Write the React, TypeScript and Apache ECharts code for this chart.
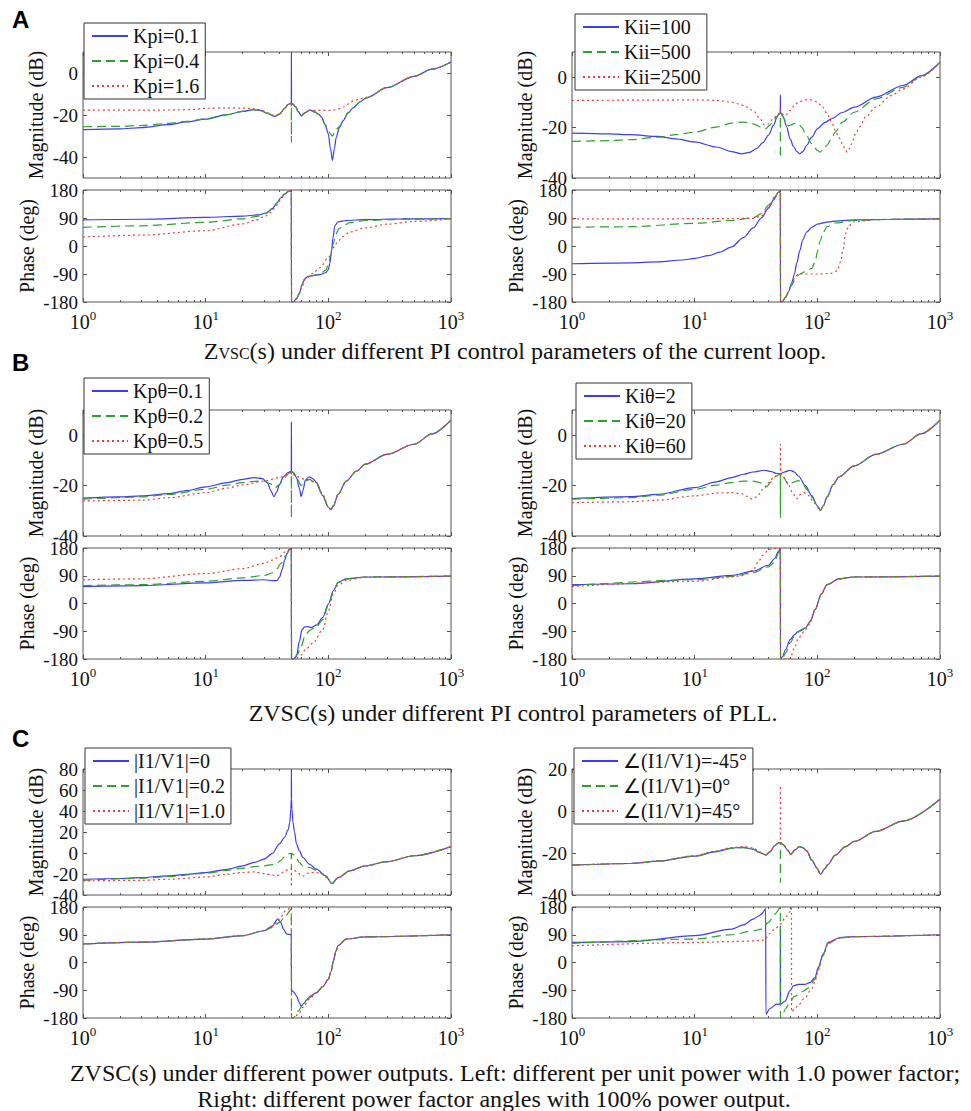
import React, { useEffect, useRef } from 'react';
import * as echarts from 'echarts';

const FONT = '"Liberation Serif", "Times New Roman", serif';
const SANS = '"Liberation Sans", Arial, sans-serif';
const TXT = '#111';
const FRAME = '#555';
const TICK = '#555';
const BLUE = '#3c3cf0';
const GREEN = '#2ea02e';
const RED = '#f03c3c';

// ---------- tick values ----------
const X_DECADES = [1, 10, 100, 1000];
const PHASE_TICKS = [-180, -90, 0, 90, 180];
const MAG_TICKS_3 = [-40, -20, 0];
const MAG_TICKS_C1 = [-40, -20, 0, 20, 40, 60, 80];
const MAG_TICKS_C2 = [-40, -20, 0, 20];

// ---------- legend names ----------
const NAMES_A1 = ['Kpi=0.1', 'Kpi=0.4', 'Kpi=1.6'];
const NAMES_A2 = ['Kii=100', 'Kii=500', 'Kii=2500'];
const NAMES_B1 = ['Kpθ=0.1', 'Kpθ=0.2', 'Kpθ=0.5'];
const NAMES_B2 = ['Kiθ=2', 'Kiθ=20', 'Kiθ=60'];
const NAMES_C1 = ['|I1/V1|=0', '|I1/V1|=0.2', '|I1/V1|=1.0'];
const NAMES_C2 = ['∠(I1/V1)=-45°', '∠(I1/V1)=0°', '∠(I1/V1)=45°'];

// ---------- Panel A left: Kpi ----------
const aL_mag_kpi01 = [[1,-27],[2,-26.6],[3,-26],[5,-24.6],[7,-23.3],[10,-22],[15,-19.8],[20,-18.3],[24.5,-17.5],[28,-17.9],[32,-19.2],[36.7,-20.7],[40,-19.6],[44,-16.8],[47,-15],[49,-14.6],[49.9,-14.6],[50,9.5],[50.1,-14.6],[51.5,-14.8],[54,-16],[57,-18.5],[60.5,-20.4],[64,-19],[71,-17.7],[78,-18.6],[84,-19.8],[88,-21],[94,-24.5],[100,-29],[104,-36],[108,-41.6],[112,-36],[116,-30.6],[123,-26],[132,-22.7],[145,-19],[160,-16.5],[180,-13.8],[205,-11.8],[300,-7],[500,-1.6],[700,1.8],[1000,5.2]];
const aL_mag_kpi04 = [[1,-25.6],[2,-25.4],[3,-25],[5,-24],[7,-23],[10,-21.8],[15,-19.8],[20,-18.3],[24.5,-17.5],[28,-17.9],[32,-19.2],[36.7,-20.7],[40,-19.6],[44,-16.8],[47,-15],[49,-14.6],[49.9,-14.6],[50,-33],[50.1,-14.6],[51.5,-14.8],[54,-16],[57,-18.5],[60.5,-20.4],[64,-19],[71,-17.7],[78,-18.6],[84,-19.8],[88,-21],[94,-24.5],[100,-27.5],[105,-29.5],[108,-30],[112,-28.5],[118,-26.5],[125,-25],[132,-22.7],[145,-19],[160,-16.5],[180,-13.8],[205,-11.8],[300,-7],[500,-1.6],[700,1.8],[1000,5.2]];
const aL_mag_kpi16 = [[1,-17.7],[3,-17.7],[6,-17.6],[8,-17.3],[10,-16.8],[15,-16.6],[20,-16.7],[24.5,-17],[28,-17.6],[32,-19],[36.7,-20.5],[40,-19.5],[44,-16.8],[47,-15],[49,-14.6],[49.9,-14.6],[50.1,-14.6],[51.5,-14.8],[54,-16],[57,-18.5],[60.5,-20.4],[64,-19],[71,-17.7],[80,-17.8],[95,-17.8],[110,-17.7],[120,-17.2],[132,-16.2],[145,-14.8],[160,-13.3],[180,-12.3],[205,-11.6],[300,-7],[500,-1.6],[700,1.8],[1000,5.2]];
const aL_ph_kpi01 = [[1,84],[3,86],[10,92],[20,96],[27,100],[31,106],[35,120],[38,138],[41,155],[44,167],[47,175],[49.9,179],[50.1,-180],[52,-179],[55,-169],[58,-152],[61,-125],[64,-106],[68,-98],[75,-95],[85,-92],[95,-86],[100,-76],[103,-55],[106,-20],[109,25],[113,65],[120,78],[140,82],[200,85],[400,87],[1000,88]];
const aL_ph_kpi04 = [[1,60],[3,65],[10,76],[20,87],[27,96],[31,105],[35,120],[38,138],[41,155],[44,167],[47,175],[49.9,179],[50.1,-180],[52,-179],[55,-169],[58,-152],[61,-125],[64,-106],[68,-98],[75,-95],[85,-90],[95,-78],[100,-60],[105,-28],[110,8],[115,38],[122,55],[132,65],[150,75],[200,82],[400,86],[1000,88]];
const aL_ph_kpi16 = [[1,29],[3,35],[10,49],[20,71],[26,84],[30,94],[34,108],[37,125],[40,145],[44,165],[47,175],[49.9,179],[50.1,-180],[52,-179],[55,-170],[58,-155],[61,-130],[65,-106],[75,-88],[85,-70],[100,-38],[110,-5],[120,15],[130,30],[150,45],[200,58],[300,70],[500,79],[1000,87]];

// ---------- Panel A right: Kii ----------
const aR_mag_kii100 = [[1,-22.2],[2,-22.5],[3,-22.8],[5,-23.5],[7,-24.5],[10,-25.7],[15,-27.7],[20,-29.5],[24,-30.4],[28,-29.8],[32,-28.3],[36,-26],[40,-23],[44,-19],[47,-15.8],[49,-14.3],[49.9,-14.1],[50,-7],[50.1,-14.1],[51,-14.3],[53,-16],[56,-19.5],[60,-24.5],[64,-27.5],[68,-29.5],[72,-30.4],[76,-29.5],[82,-27],[90,-23.8],[100,-20.5],[115,-18],[130,-16.5],[160,-14],[200,-11.9],[300,-7.9],[500,-3.3],[700,0.5],[1000,6]];
const aR_mag_kii500 = [[1,-25.5],[2,-25.2],[3,-24.8],[5,-23.8],[7,-22.8],[10,-21.8],[15,-19.8],[20,-18.2],[25,-17.8],[30,-18.5],[35,-19.8],[38,-20.5],[41,-19],[45,-16.5],[48,-15],[49.9,-14.2],[50,-32],[50.1,-14.2],[52,-15.3],[55,-17.2],[58,-19.3],[62,-18.8],[66,-18.2],[70,-18.5],[75,-20],[80,-22.4],[90,-26.4],[100,-29],[105,-29.7],[112,-28.8],[120,-27],[130,-24.5],[140,-21.8],[160,-17.8],[200,-13.9],[300,-8.6],[500,-4],[700,0.3],[1000,6]];
const aR_mag_kii2500 = [[1,-9.2],[5,-9.1],[10,-9],[15,-9.2],[20,-9.9],[25,-11.2],[30,-13.2],[34,-16.3],[37,-19],[40,-18.5],[44,-16.2],[48,-14.8],[49.9,-14.2],[50,-13],[50.1,-14.2],[52,-14.6],[55,-15.2],[60,-13.2],[65,-11.2],[70,-9.9],[80,-9],[90,-9],[100,-9.9],[110,-11.8],[120,-14.5],[130,-17.5],[140,-21],[150,-24],[160,-26.4],[170,-29],[175,-29.7],[182,-28.5],[190,-26.4],[205,-22.5],[220,-19.8],[250,-15.5],[300,-11.9],[400,-7.3],[500,-4.6],[700,0],[1000,6]];
const aR_ph_kii100 = [[1,-57],[3,-54],[5,-51],[8,-45],[10,-40],[13,-31],[16,-20],[20,-3],[25,27],[30,58],[35,90],[40,122],[44,148],[48,172],[49.9,178],[50.1,-180],[52,-178],[55,-165],[58,-148],[62,-118],[65,-90],[68,-55],[72,-15],[76,20],[82,45],[90,60],[100,70],[120,77],[150,81],[200,84],[400,86],[1000,87]];
const aR_ph_kii500 = [[1,60],[3,62],[10,73],[20,82],[30,91],[35,104],[40,131],[45,158],[48,172],[49.9,178],[50.1,-180],[52,-178],[55,-165],[58,-150],[62,-125],[66,-105],[72,-90],[80,-82],[90,-72],[96,-50],[100,-20],[105,15],[112,45],[120,62],[140,74],[200,82],[400,86],[1000,87]];
const aR_ph_kii2500 = [[1,87],[5,87],[10,88],[20,88],[30,89],[35,96],[40,125],[45,156],[48,172],[49.9,178],[50.1,-180],[52,-178],[55,-165],[58,-148],[62,-120],[66,-98],[70,-90],[100,-90],[130,-88],[145,-80],[155,-50],[162,-10],[170,40],[180,65],[200,78],[300,85],[1000,87]];

// ---------- Panel B left: Kpθ ----------
const bL_mag_kp01 = [[1,-25],[2,-24.5],[3,-24.1],[5,-23.2],[7,-22],[10,-20.5],[15,-18.8],[20,-17.5],[25,-16.8],[29,-17.2],[32,-19],[34,-22],[36,-24.4],[38,-22.5],[40,-19.5],[43,-16.5],[47,-14.8],[49.9,-14.3],[50,5.4],[50.1,-14.3],[52,-14.8],[55,-16.8],[58,-21],[60,-24.4],[62,-22],[65,-17.8],[70,-16.5],[75,-17.3],[80,-18.8],[90,-24],[100,-28.5],[105,-29.5],[110,-28],[120,-23.5],[140,-18.2],[170,-14.2],[200,-11.5],[300,-7.6],[500,-3.6],[700,0.5],[1000,6]];
const bL_mag_kp02 = [[1,-25.4],[3,-24.5],[5,-23.5],[10,-21.5],[15,-19.8],[20,-18.8],[25,-18.3],[30,-18.2],[34,-19.3],[37,-20.8],[40,-19.5],[44,-16.8],[48,-15],[49.9,-14.3],[50,-32.7],[50.1,-14.3],[53,-15.5],[56,-17.5],[60,-20],[64,-18.5],[70,-17.5],[80,-19.3],[90,-24],[100,-28.5],[105,-29.5],[110,-28],[120,-23.5],[140,-18.2],[170,-14.2],[200,-11.5],[300,-7.6],[500,-3.6],[700,0.5],[1000,6]];
const bL_mag_kp05 = [[1,-26.1],[3,-25.8],[5,-24.8],[10,-22.8],[15,-21],[20,-19.7],[30,-18.2],[40,-16.8],[48,-15.2],[49.9,-14.5],[50.1,-14.5],[55,-16.4],[65,-17.5],[80,-18.8],[90,-23.5],[100,-28.5],[105,-29.5],[110,-28],[120,-23.5],[140,-18.2],[170,-14.2],[200,-11.5],[300,-7.6],[500,-3.6],[700,0.5],[1000,6]];
const bL_ph_kp01 = [[1,55],[3,58],[10,67],[20,75],[30,77],[35,74],[38,74],[40,85],[42,110],[44,140],[46,162],[48,175],[49.9,179],[50.1,-180],[52,-180],[55,-172],[58,-123],[61,-85],[64,-76],[68,-75],[73,-78],[80,-70],[90,-46],[100,-2],[110,42],[120,69],[140,80],[200,86],[1000,89]];
const bL_ph_kp02 = [[1,58],[3,61],[10,72],[20,83],[30,91],[35,99],[38,112],[41,130],[45,155],[48,172],[49.9,179],[50.1,-180],[52,-180],[56,-165],[60,-139],[65,-101],[72,-85],[80,-76],[90,-52],[100,-5],[110,40],[120,68],[140,80],[200,86],[1000,89]];
const bL_ph_kp05 = [[1,77],[3,80],[10,97],[20,113],[30,130],[35,141],[40,152],[45,168],[49.9,179],[50.1,-180],[55,-178],[60,-167],[65,-150],[75,-128],[90,-85],[100,-24],[110,31],[120,58],[140,75],[200,85],[1000,89]];

// ---------- Panel B right: Kiθ ----------
const bR_mag_ki2 = [[1,-25.2],[3,-24.4],[5,-23.5],[10,-20.8],[15,-18.5],[20,-16.8],[25,-15.5],[30,-14.6],[37,-13.9],[42,-14.4],[46,-15.1],[49.9,-15.4],[50.1,-15.4],[54,-14.6],[60,-13.9],[65,-14.6],[70,-16.2],[80,-20],[90,-24],[100,-28],[106,-29.8],[112,-28],[120,-24.5],[135,-19.5],[150,-16.5],[200,-12.2],[300,-7.6],[500,-3.6],[700,0.5],[1000,6]];
const bR_mag_ki20 = [[1,-25.4],[3,-24.8],[5,-23.8],[10,-21.5],[15,-19.8],[20,-18.8],[25,-18.2],[30,-18.2],[34,-18.8],[38.4,-20.5],[42,-18.5],[46,-16.3],[49.9,-15.4],[50,-32.7],[50.1,-15.4],[53,-16.5],[56,-18.5],[58.6,-20],[63,-18.8],[70,-18],[76,-19],[82,-21.5],[90,-24.5],[100,-28],[106,-29.8],[112,-28],[120,-24.5],[135,-19.5],[150,-16.5],[200,-12.2],[300,-7.6],[500,-3.6],[700,0.5],[1000,6]];
const bR_mag_ki60 = [[1,-26.8],[3,-26.4],[5,-25.8],[10,-24.1],[15,-23],[20,-22.8],[24,-23.2],[27,-24.3],[29.5,-25.4],[32,-24.5],[36,-21.5],[40,-18.8],[45,-16.3],[49.9,-15.4],[50,-3.6],[50.1,-15.4],[54,-17],[58,-19.5],[63,-23],[68,-25.2],[73,-23.5],[78,-22.8],[85,-24],[95,-27],[106,-29.8],[112,-28],[120,-24.5],[135,-19.5],[150,-16.5],[200,-12.2],[300,-7.6],[500,-3.6],[700,0.5],[1000,6]];
const bR_ph_ki2 = [[1,61],[3,64],[10,80],[20,91],[30,105],[40,124],[45,146],[48,168],[49.9,179],[50.1,-180],[52,-172],[55,-150],[60,-117],[65,-101],[70,-90],[80,-79],[88,-57],[96,-19],[108,31],[120,61],[150,80],[200,86],[1000,89]];
const bR_ph_ki20 = [[1,58],[10,77],[20,88],[30,100],[40,119],[45,135],[48,162],[49.9,179],[50.1,-180],[52,-178],[55,-161],[60,-128],[65,-106],[72,-90],[80,-80],[88,-57],[96,-19],[108,31],[120,61],[150,80],[200,86],[1000,89]];
const bR_ph_ki60 = [[1,55],[10,72],[20,86],[25,91],[30,108],[33,135],[36,157],[40,173],[43,179],[49.9,179],[50.1,-180],[55,-180],[60,-178],[65,-145],[70,-112],[78,-92],[85,-70],[96,-19],[108,31],[120,61],[150,80],[200,86],[1000,89]];

// ---------- Panel C left: |I1/V1| ----------
const cL_mag_p0 = [[1,-25],[2,-24.3],[3,-23.4],[5,-21.8],[7,-20.3],[10,-18.6],[15,-15.5],[20,-12.2],[25,-9],[30,-5.8],[35,-0.3],[40,8.7],[44,15],[47,22],[48.5,29],[49.5,42],[49.9,52],[50,80],[50.1,52],[50.5,42],[51.5,29],[53,20],[55,8.7],[58,2.2],[62,-4.2],[70,-10.6],[80,-15.4],[95,-21.8],[107,-29.2],[120,-23.4],[150,-17],[200,-12.2],[300,-8.3],[500,-2.6],[1000,6.1]];
const cL_mag_p02 = [[1,-26],[3,-24],[5,-22.5],[10,-19.3],[15,-16.5],[20,-14.4],[25,-13],[30,-12.2],[35,-11],[38,-10],[41,-7],[44,-3.5],[47,-1],[49.9,-0.3],[50,-15],[50.1,-0.3],[52,-1.6],[55,-5],[58,-9],[62,-12.2],[70,-13.8],[80,-16.4],[95,-21.8],[107,-29.2],[120,-23.4],[150,-17],[200,-12.2],[300,-8.3],[500,-2.6],[1000,6.1]];
const cL_mag_p10 = [[1,-26.6],[3,-26],[5,-25],[10,-22.8],[15,-20.2],[20,-18.6],[25,-18],[30,-19.6],[35,-21],[38,-21.8],[41,-19.5],[44,-17],[48,-15.4],[49.9,-15],[50,-32],[50.1,-15],[53,-16.5],[56,-18.5],[60,-21.5],[63,-21.8],[67,-19.5],[72,-18.5],[80,-18.6],[90,-20],[100,-25],[107,-29.2],[120,-23.4],[150,-17],[200,-12.2],[300,-8.3],[500,-2.6],[1000,6.1]];
const cL_ph_p0 = [[1,60],[3,66],[10,76],[20,87],[30,103],[35,119],[38.6,141],[41,130],[43,108],[46,92],[49.9,90],[50.1,-90],[52,-95],[55,-108],[58,-130],[60,-141],[63,-133],[67,-120],[72,-108],[80,-98],[90,-78],[100,-55],[105,-30],[110,5],[115,35],[120,55],[140,76],[200,83],[1000,90]];
const cL_ph_p02 = [[1,60],[3,66],[10,76],[20,87],[30,103],[35,114],[40,130],[45,152],[49.9,173],[50.1,-180],[52,-179],[57,-157],[62,-136],[70,-114],[80,-98],[90,-78],[100,-55],[105,-30],[110,5],[115,35],[120,55],[140,76],[200,83],[1000,90]];
const cL_ph_p10 = [[1,60],[3,66],[10,76],[20,87],[30,103],[35,117],[40,141],[45,168],[49.9,179],[50.1,-180],[52,-180],[57,-168],[62,-146],[70,-119],[80,-98],[90,-78],[100,-55],[105,-30],[110,5],[115,35],[120,55],[140,76],[200,83],[1000,90]];

// ---------- Panel C right: ∠(I1/V1) ----------
const cR_mag_m45 = [[1,-25.8],[3,-25],[5,-23.9],[10,-21.5],[15,-19.3],[20,-17.7],[25,-17.3],[30,-18.2],[34,-19.8],[38,-21],[41,-19.5],[45,-16.5],[48,-15.3],[49.9,-15],[50.1,-15],[53,-16.1],[57,-18.5],[60.6,-20.6],[66,-18.5],[71,-17],[76,-17.4],[82,-19],[90,-23.4],[100,-27.4],[106,-30.2],[115,-27.5],[122,-25.5],[140,-21],[170,-17],[200,-14.5],[300,-9.7],[500,-4.8],[1000,5.6]];
const cR_mag_0 = [[1,-25.8],[3,-25],[5,-23.9],[10,-21.5],[15,-19.3],[20,-17.8],[25,-17.4],[30,-18.2],[34,-19.8],[38,-21],[41,-19.5],[45,-16.5],[48,-15.3],[49.9,-15],[50,-34],[50.1,-15],[53,-16.1],[57,-18.5],[60.6,-20.6],[66,-18.5],[71,-17],[76,-17.4],[82,-19],[90,-23.4],[100,-27.4],[106,-30.2],[115,-27.5],[122,-25.5],[140,-21],[170,-17],[200,-14.5],[300,-9.7],[500,-4.8],[1000,5.6]];
const cR_mag_p45 = [[1,-25.8],[3,-25],[5,-23.9],[10,-21.3],[15,-19],[20,-17.4],[25,-16.9],[30,-17.6],[34,-19.5],[38,-20.8],[41,-19.5],[45,-16.5],[48,-15.3],[49.9,-15],[50,12],[50.1,-15],[53,-16.1],[57,-18.5],[60.6,-20.6],[66,-18.5],[71,-17],[76,-17.4],[82,-19],[90,-23.4],[100,-27.4],[106,-30.2],[115,-27.5],[122,-25.5],[140,-21],[170,-17],[200,-14.5],[300,-9.7],[500,-4.8],[1000,5.6]];
const cR_ph_m45 = [[1,65],[3,68],[10,87],[20,108],[25,122],[30,141],[33,150],[35,157],[37,168],[37.9,176],[38.1,-168],[41,-150],[46.6,-135],[49.9,-135],[50,120],[50.1,-135],[54.6,-125],[59.8,-92],[63.7,-76],[70,-71],[79,-71],[87,-65],[95.6,-49],[101.7,-16],[111.5,27],[122.5,65],[153,81],[200,84],[1000,90]];
const cR_ph_0 = [[1,62],[10,76],[20,90],[30,103],[35,108],[40,130],[45,157],[49.9,177],[50.1,-180],[52,-170],[55,-150],[60,-128],[65,-110],[75,-95],[85,-82],[95.6,-55],[101.7,-20],[111.5,25],[122.5,63],[153,80],[200,84],[1000,90]];
const cR_ph_p45 = [[1,54],[10,65],[20,68],[30,70],[35,71],[38,76],[40,92],[45,108],[50,125],[55,146],[60,165],[61.5,176],[61.7,-160],[65,-152],[70,-138],[80,-112],[90,-85],[97,-55],[101.7,-25],[111.5,22],[122.5,62],[153,80],[200,84],[1000,90]];

// ---------- layout config ----------
const PANELS = [
  { left: 83, magTop: 52, phTop: 190, phH: 112, magMin: -50, magMax: 10, magTicks: MAG_TICKS_3, names: NAMES_A1,
    mag: [aL_mag_kpi01, aL_mag_kpi04, aL_mag_kpi16], ph: [aL_ph_kpi01, aL_ph_kpi04, aL_ph_kpi16], lg: [84, 23] },
  { left: 572, magTop: 52, phTop: 190, phH: 112, magMin: -40, magMax: 10, magTicks: MAG_TICKS_3, names: NAMES_A2,
    mag: [aR_mag_kii100, aR_mag_kii500, aR_mag_kii2500], ph: [aR_ph_kii100, aR_ph_kii500, aR_ph_kii2500], lg: [575, 14] },
  { left: 83, magTop: 410, phTop: 548, phH: 111, magMin: -40, magMax: 10, magTicks: MAG_TICKS_3, names: NAMES_B1,
    mag: [bL_mag_kp01, bL_mag_kp02, bL_mag_kp05], ph: [bL_ph_kp01, bL_ph_kp02, bL_ph_kp05], lg: [84, 378] },
  { left: 572, magTop: 410, phTop: 548, phH: 111, magMin: -40, magMax: 10, magTicks: MAG_TICKS_3, names: NAMES_B2,
    mag: [bR_mag_ki2, bR_mag_ki20, bR_mag_ki60], ph: [bR_ph_ki2, bR_ph_ki20, bR_ph_ki60], lg: [576, 383] },
  { left: 83, magTop: 769, phTop: 907, phH: 111, magMin: -40, magMax: 80, magTicks: MAG_TICKS_C1, names: NAMES_C1,
    mag: [cL_mag_p0, cL_mag_p02, cL_mag_p10], ph: [cL_ph_p0, cL_ph_p02, cL_ph_p10], lg: [85, 748] },
  { left: 572, magTop: 769, phTop: 907, phH: 111, magMin: -40, magMax: 20, magTicks: MAG_TICKS_C2, names: NAMES_C2,
    mag: [cR_mag_m45, cR_mag_0, cR_mag_p45], ph: [cR_ph_m45, cR_ph_0, cR_ph_p45], lg: [574, 748] },
];

const COLORS = [BLUE, GREEN, RED];
const DASHES: any[] = ['solid', [9, 5], [2, 3]];

function buildOption() {
  const grid: any[] = [];
  const xAxis: any[] = [];
  const yAxis: any[] = [];
  const series: any[] = [];
  const legend: any[] = [];

  PANELS.forEach((p, pi) => {
    [0, 1].forEach((k) => {
      const g = pi * 2 + k;
      const isMag = k === 0;
      grid.push({
        left: p.left, top: isMag ? p.magTop : p.phTop, width: 368, height: isMag ? 126 : p.phH,
        show: true, borderColor: FRAME, borderWidth: 1, backgroundColor: 'transparent', containLabel: false,
      });
      const xBase = {
        type: 'log', logBase: 10, min: 1, max: 1000, gridIndex: g,
        axisLine: { show: false, onZero: false }, splitLine: { show: false },
        axisTick: { show: true, inside: true, length: 4, lineStyle: { color: TICK } },
        minorTick: { show: true, splitNumber: 9, length: 2, lineStyle: { color: TICK } },
      };
      xAxis.push({
        ...xBase, position: 'bottom',
        axisLabel: isMag ? { show: false } : {
          show: true, margin: 7, customValues: X_DECADES,
          formatter: (v: number) => '{b|10}{s|' + Math.round(Math.log10(v)) + '}',
          rich: {
            b: { fontSize: 20, fontFamily: FONT, color: TXT, verticalAlign: 'bottom' },
            s: { fontSize: 13, fontFamily: FONT, color: TXT, verticalAlign: 'bottom', padding: [0, 0, 10, 0] },
          },
        },
      });
      xAxis.push({ ...xBase, position: 'top', axisLabel: { show: false } });
      const ticks = isMag ? p.magTicks : PHASE_TICKS;
      const yBase = {
        type: 'value', min: isMag ? p.magMin : -180, max: isMag ? p.magMax : 180, gridIndex: g,
        axisLine: { show: false, onZero: false }, splitLine: { show: false },
        axisTick: { show: true, inside: true, length: 4, customValues: ticks, lineStyle: { color: TICK } },
      };
      yAxis.push({
        ...yBase, position: 'left',
        axisLabel: { show: true, customValues: ticks, fontSize: 19, fontFamily: FONT, color: TXT, margin: 5 },
        name: isMag ? 'Magnitude (dB)' : 'Phase (deg)', nameLocation: 'middle', nameRotate: 90,
        nameGap: isMag ? 37 : 46,
        nameTextStyle: { fontSize: 20, fontFamily: FONT, color: TXT },
      });
      yAxis.push({ ...yBase, position: 'right', axisLabel: { show: false } });
      const arrs = isMag ? p.mag : p.ph;
      arrs.forEach((d, si) => {
        series.push({
          type: 'line', name: p.names[si], data: d, xAxisIndex: 2 * g, yAxisIndex: 2 * g,
          showSymbol: false, symbol: 'none', smooth: 0.3, smoothMonotone: 'x', silent: true,
          lineStyle: { color: COLORS[si], width: 1.2, type: DASHES[si] },
          itemStyle: { color: COLORS[si] },
        });
      });
    });
    legend.push({
      orient: 'vertical', left: p.lg[0], top: p.lg[1], data: p.names, selectedMode: false,
      itemWidth: 36, itemHeight: 12, itemGap: 5,
      itemStyle: { opacity: 0 },
      backgroundColor: '#fff', borderColor: '#333', borderWidth: 1, borderRadius: 0,
      padding: [3, 6, 3, 7],
      textStyle: { fontSize: 20, fontFamily: FONT, color: TXT },
    });
  });

  const letter = (t: string, top: number) => ({
    type: 'text', left: 12, top,
    style: { text: t, fill: '#000', font: 'bold 24px ' + SANS },
  });
  const caption = (x: number, y: number, text: string) => ({
    type: 'text', x, y,
    style: {
      text, textAlign: 'center', textVerticalAlign: 'middle', fill: TXT,
      rich: {
        n: { fontSize: 24, fontFamily: FONT, fill: TXT, verticalAlign: 'bottom' },
        s: { fontSize: 16, fontFamily: FONT, fill: TXT, verticalAlign: 'bottom', padding: [0, 0, 2, 0] },
      },
    },
  });

  return {
    animation: false,
    backgroundColor: '#fff',
    textStyle: { fontFamily: FONT },
    grid, xAxis, yAxis, series, legend,
    graphic: [
      letter('A', 7),
      letter('B', 350),
      letter('C', 726),
      caption(515, 351, '{n|Z}{s|VSC}{n|(s) under different PI control parameters of the current loop.}'),
      caption(513, 713, '{n|ZVSC(s) under different PI control parameters of PLL.}'),
      caption(515, 1073, '{n|ZVSC(s) under different power outputs. Left: different per unit power with 1.0 power factor;}'),
      caption(494, 1099, '{n|Right: different power factor angles with 100% power output.}'),
    ],
  };
}

export default function App() {
  const ref = useRef<HTMLDivElement>(null);
  useEffect(() => {
    if (!ref.current) return;
    const chart = echarts.init(ref.current, null, { renderer: 'svg' });
    chart.setOption(buildOption() as any);
    return () => chart.dispose();
  }, []);
  return (
    <div
      ref={ref}
      style={{ position: 'absolute', left: 0, top: 0, width: 971, height: 1111, background: '#fff' }}
    />
  );
}
